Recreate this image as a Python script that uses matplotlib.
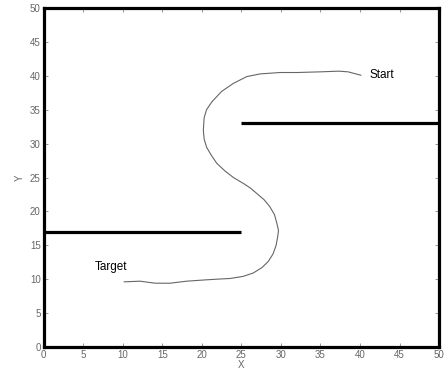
import matplotlib.pyplot as plt

plt.rcParams['font.family'] = ['Liberation Sans', 'DejaVu Sans']

# path traced from Start to Target
path_x = [40.1, 38.5, 37.3, 35.0, 32.0, 29.9, 27.4, 25.7, 24.0, 22.5, 21.3, 20.6,
          20.3, 20.2, 20.3, 20.6, 21.2, 21.9, 22.9, 24.0, 25.3, 26.2, 27.0, 27.9,
          28.6, 29.2, 29.5, 29.7, 29.6, 29.4, 29.0, 28.4, 27.6, 26.5, 25.2, 23.6,
          22.0, 20.6, 18.1, 16.0, 14.1, 12.2, 10.2]
path_y = [40.1, 40.6, 40.7, 40.6, 40.5, 40.5, 40.3, 39.9, 38.9, 37.7, 36.2, 35.0,
          33.8, 32.0, 30.7, 29.5, 28.3, 27.1, 26.0, 25.0, 24.1, 23.4, 22.6, 21.7,
          20.7, 19.5, 18.2, 17.2, 16.3, 15.0, 13.7, 12.6, 11.7, 10.9, 10.4, 10.1,
          10.0, 9.9, 9.7, 9.4, 9.4, 9.7, 9.6]

# obstacle walls
wall_upper_x = [25, 50]
wall_upper_y = [33, 33]
wall_lower_x = [0, 25]
wall_lower_y = [17, 17]

fig = plt.figure(figsize=(4.44, 3.71), dpi=100)
ax = fig.add_axes([0.098, 0.065, 0.891, 0.913])

ax.plot(path_x, path_y, color='#666666', lw=0.8)
ax.plot(wall_upper_x, wall_upper_y, color='black', lw=2.3, solid_capstyle='butt')
ax.plot(wall_lower_x, wall_lower_y, color='black', lw=2.3, solid_capstyle='butt')

ax.text(41.2, 40.1, 'Start', fontsize=8.5, va='center', ha='left')
ax.text(6.5, 11.8, 'Target', fontsize=8.5, va='center', ha='left')

ax.set_xlim(0, 50)
ax.set_ylim(0, 50)
ax.set_xticks(range(0, 51, 5))
ax.set_yticks(range(0, 51, 5))
ax.tick_params(direction='in', length=3, width=0.6, color='#888888',
               labelsize=7, labelcolor='#666666', top=True, right=True, pad=2)
for s in ax.spines.values():
    s.set_linewidth(2.3)
ax.set_xlabel('X', fontsize=7, color='#666666', labelpad=0)
ax.set_ylabel('Y', fontsize=7, color='#666666', labelpad=4)

fig.savefig('out.png', dpi=100)
